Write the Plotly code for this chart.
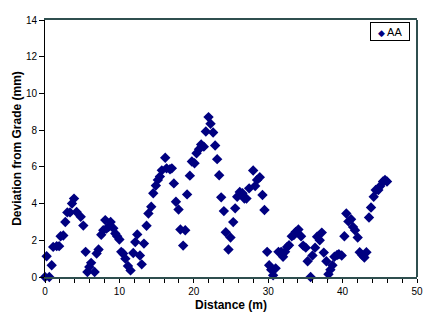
import plotly.graph_objects as go

distance = [0, 0.22, 0.58, 0.9, 1.1, 1.57, 1.9, 2.1, 2.46, 2.73, 3.0, 3.36, 3.63, 3.9, 4.25, 4.8, 5.15,
            5.46, 5.7, 5.95, 6.2, 6.67, 6.94, 7.2, 7.56, 7.83, 8.1, 8.28, 8.55, 8.82, 9.18, 9.45, 9.7,
            10.0, 10.25, 10.5, 10.8, 11.15, 11.5, 11.86, 12.13, 12.4, 12.76, 13.0, 13.3, 13.65, 13.9,
            14.28, 14.55, 14.9, 15.17, 15.44, 15.7, 16.16, 16.34, 16.8, 17.05, 17.32, 17.6, 17.95,
            18.2, 18.57, 18.85, 19.1, 19.47, 19.74, 20.1, 20.37, 20.7, 20.99, 21.35, 21.62, 21.98,
            22.25, 22.6, 22.87, 23.14, 23.41, 23.68, 24.04, 24.3, 24.66, 24.93, 25.3, 25.56, 25.83,
            26.18, 26.54, 26.8, 27.08, 27.44, 27.98, 28.25, 28.5, 28.87, 29.23, 29.5, 29.86, 30.13,
            30.4, 30.66, 31.0, 31.38, 31.74, 32.0, 32.27, 32.54, 32.8, 33.17, 33.44, 33.7, 34.06,
            34.42, 34.7, 35.05, 35.3, 35.7, 35.95, 36.3, 36.57, 36.93, 37.2, 37.47, 37.82, 38.1,
            38.36, 38.63, 38.9, 39.26, 39.5, 39.88, 40.24, 40.5, 40.78, 41.14, 41.4, 41.67, 42.03,
            42.3, 42.66, 42.93, 43.2, 43.55, 43.82, 44.18, 44.45, 44.8, 45.07, 45.43, 45.7, 45.97]

deviation = [0, 1.13, 0, 0.64, 1.64, 1.68, 1.68, 2.22, 2.26, 3.0, 3.52, 3.52, 4.0, 4.27, 3.54, 3.28, 2.8,
             1.37, 0.27, 0.55, 0.77, 0.27, 1.28, 1.5, 2.3, 2.55, 3.1, 2.64, 2.73, 3.0, 2.66, 2.37, 2.22,
             2.04, 1.37, 1.28, 1.0, 0.6, 0.36, 1.31, 1.9, 2.32, 1.17, 0.69, 1.82, 2.79, 3.46,
             3.83, 4.56, 4.98, 5.29, 5.47, 5.81, 6.5, 5.92, 5.87, 5.92, 5.1, 4.1, 3.68,
             2.59, 1.71, 2.55, 4.5, 5.52, 6.29, 6.2, 6.74, 6.96, 7.22, 7.1, 7.93, 8.71,
             8.35, 7.87, 7.16, 6.42, 5.54, 4.34, 3.59, 2.44, 1.5, 2.15, 2.99, 3.74, 4.37,
             4.63, 4.56, 4.28, 4.27, 4.83, 5.8, 4.96, 5.29, 5.43, 4.47, 3.65, 1.37, 0.64,
             0.4, 0.09, 0.47, 1.37, 1.37, 1.1, 1.37, 1.64, 1.73, 2.22, 2.28, 2.46, 2.59,
             2.22, 1.71, 1.6, 0.86, 0, 1.17, 1.6, 2.19, 2.0, 2.42, 1.33, 0.86, 0.15,
             0.4, 0.64, 1.1, 1.2, 1.24, 1.17, 2.22, 3.46, 3.03, 3.15, 2.73, 2.55, 2.15,
             1.35, 1.18, 1.06, 1.35, 3.24, 3.79, 4.37, 4.74, 4.74, 4.96, 5.2, 5.29, 5.2]

series_name = "AA"
x_title = "Distance (m)"
y_title = "Deviation from Grade (mm)"
marker_color = "#000080"

fig = go.Figure()
fig.add_trace(go.Scatter(
    x=distance, y=deviation, mode="markers", name=series_name,
    marker=dict(symbol="diamond", size=8, color=marker_color, line=dict(width=0)),
    cliponaxis=False, showlegend=False,
))

font_family = "Arial, Liberation Sans, sans-serif"
axis_font = dict(family=font_family, size=10, color="black")
title_font = dict(family=font_family, size=12, color="black")

legend_text = ("<span style='color:%s;font-size:9px'>◆</span> %s" % (marker_color, series_name))

fig.update_layout(
    width=434, height=321,
    margin=dict(l=45, r=17, t=20, b=44),
    paper_bgcolor="white", plot_bgcolor="white",
    xaxis=dict(range=[0, 50], tickvals=[0, 10, 20, 30, 40, 50], ticks="outside", ticklen=4,
               tickcolor="black", showgrid=False, zeroline=False, automargin=False,
               showline=True, linecolor="#2F4F4F", linewidth=2, mirror=True,
               minor=dict(dtick=2, ticks="outside", ticklen=4, tickcolor="black", showgrid=False),
               tickfont=axis_font),
    yaxis=dict(range=[0, 14], dtick=2, ticks="outside", ticklen=5, tickcolor="black",
               showgrid=False, zeroline=False, automargin=False,
               showline=True, linecolor="black", linewidth=1,
               tickfont=axis_font),
    shapes=[dict(type="line", xref="paper", yref="paper", x0=1, x1=1, y0=0, y1=1,
                 line=dict(color="#2F4F4F", width=2))],
    annotations=[
        dict(text="<b>" + x_title + "</b>", xref="paper", yref="paper", x=0.5, y=-0.11,
             xanchor="center", yanchor="middle", showarrow=False, font=title_font),
        dict(text="<b>" + y_title + "</b>", xref="paper", yref="paper", x=-0.077, y=0.5,
             xanchor="center", yanchor="middle", textangle=-90, showarrow=False, font=title_font),
        dict(text=legend_text, xref="paper", yref="paper", x=0.981, y=0.992,
             xanchor="right", yanchor="top", showarrow=False,
             width=36, height=15, borderpad=1, bordercolor="black", borderwidth=1,
             bgcolor="white", align="center",
             font=dict(family=font_family, size=11, color="black")),
    ],
)

fig.write_html("out.html", post_script="document.body.style.margin='0';",
               config={"displayModeBar": False})
